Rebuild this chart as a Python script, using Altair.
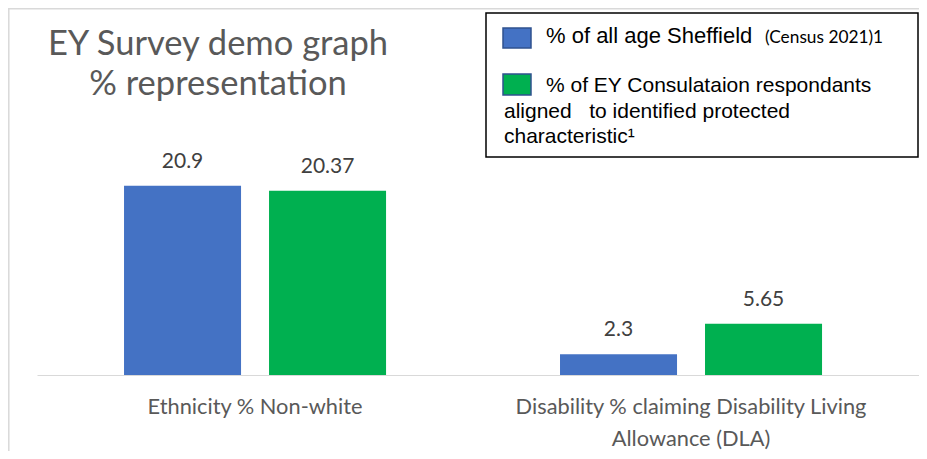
import altair as alt
import pandas as pd

categories = ["Ethnicity % Non-white", "Disability % claiming Disability Living\nAllowance (DLA)"]
series = ["% of all age Sheffield (Census 2021)1",
          "% of EY Consulataion respondants aligned to identified protected characteristic1"]
sheffield_values = [20.9, 2.3]
ey_values = [20.37, 5.65]
colors = ["#4472C4", "#00B050"]
title_lines = ["EY Survey demo graph", "% representation"]

rows = []
for i, c in enumerate(categories):
    rows.append({"cat": c, "series": series[0], "value": sheffield_values[i], "label": str(sheffield_values[i])})
    rows.append({"cat": c, "series": series[1], "value": ey_values[i], "label": str(ey_values[i])})
df = pd.DataFrame(rows)

one = alt.Data(values=[{"a": 1}])

x_enc = alt.X("cat:N", sort=categories, title=None,
              scale=alt.Scale(paddingInner=0.399, paddingOuter=0.211, align=0.473),
              axis=alt.Axis(labelExpr="split(datum.label, '\\n')", labelAngle=0, labelLimit=0,
                            labelFont="Lato", labelFontSize=21.8, labelColor="#595959",
                            labelLineHeight=32, labelPadding=21, ticks=False,
                            domainColor="#d9d9d9", domainWidth=1.2))
xo_enc = alt.XOffset("series:N", sort=series, scale=alt.Scale(paddingInner=0.193, paddingOuter=0))
y_enc = alt.Y("value:Q", scale=alt.Scale(domain=[0, 40]), axis=None)

bars = alt.Chart(df).mark_bar().encode(
    x=x_enc, xOffset=xo_enc, y=y_enc,
    color=alt.Color("series:N", sort=series, scale=alt.Scale(domain=series, range=colors), legend=None),
)
labels = alt.Chart(df).mark_text(dy=-18, baseline="alphabetic", font="Lato", fontSize=21, color="#404040").encode(
    x=x_enc, xOffset=xo_enc, y=y_enc, text="label:N"
)

title = alt.Chart(one).mark_text(font="Lato", fontSize=34.5, color="#595959", baseline="alphabetic",
                                 align="center", lineHeight=40).encode(
    x=alt.value(181), y=alt.value(42), text=alt.value(title_lines))

box = alt.Chart(one).mark_rect(filled=False, stroke="black", strokeWidth=1.5).encode(
    x=alt.value(449), x2=alt.value(881), y=alt.value(0), y2=alt.value(144))

sw1 = alt.Chart(one).mark_rect(fill=colors[0], stroke="#2F528F", strokeWidth=1.5).encode(
    x=alt.value(466), x2=alt.value(494), y=alt.value(15), y2=alt.value(35))
sw2 = alt.Chart(one).mark_rect(fill=colors[1], stroke="#2F528F", strokeWidth=1.5).encode(
    x=alt.value(466), x2=alt.value(494), y=alt.value(61), y2=alt.value(82))

def ltext(txt, x, y, font="Liberation Sans", size=21):
    return alt.Chart(one).mark_text(font=font, fontSize=size, color="black", align="left",
                                    baseline="alphabetic").encode(
        x=alt.value(x), y=alt.value(y), text=alt.value(txt))

lt1 = ltext("% of all age Sheffield", 509, 30, size=22)
lt1b = ltext("(Census 2021)1", 728, 30, font="Lato", size=17.3)
lt2 = ltext("% of EY Consulataion respondants", 509, 79)
lt3 = ltext("aligned\u00a0\u00a0 to identified protected", 467, 105)
lt4 = ltext("characteristic\u00b9", 467, 130)

border_top = alt.Chart(one).mark_rule(color="#d9d9d9", strokeWidth=1.5).encode(
    x=alt.value(-29), x2=alt.value(885), y=alt.value(-4.2))
border_left = alt.Chart(one).mark_rule(color="#d9d9d9", strokeWidth=1.5).encode(
    x=alt.value(-28.2), y=alt.value(-5), y2=alt.value(440))

chart = alt.layer(border_top, border_left, bars, labels, title, box, sw1, sw2,
                  lt1, lt1b, lt2, lt3, lt4).properties(
    width=882, height=362,
    autosize=alt.AutoSizeParams(type="none"),
    padding={"left": 29, "right": 0, "top": 5, "bottom": 76},
).configure_view(stroke=None)

chart.save("out.html", embed_options={"renderer": "svg", "actions": False})
